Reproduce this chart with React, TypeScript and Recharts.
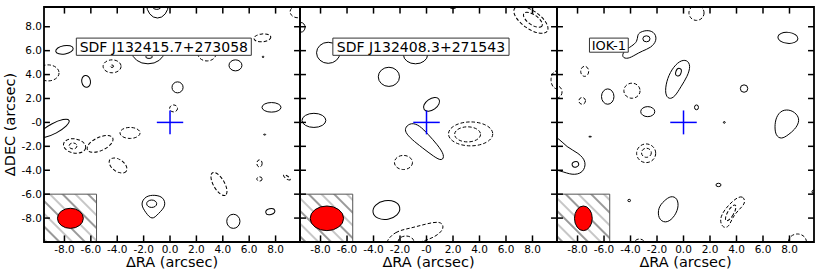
import React from 'react'
import { ComposedChart, XAxis, YAxis, Scatter, ReferenceArea, ReferenceLine } from 'recharts'

const TICKS = [-8, -6, -4, -2, 0, 2, 4, 6, 8]
const X_DOMAIN = [-9.55, 9.85]
const Y_DOMAIN = [-10, 9.65]
const X_TICK_LEN = 0.55 // inward tick length, in y units
const Y_TICK_LEN = 0.45 // inward tick length, in x units

// contours, in arcsec: [cx, cy, rx, ry, tilt deg]
const P1_POS = [
  [-0.95, 9.9, 0.83, 1.17, 0], [-1.0, 9.8, 0.38, 0.35, 0], [-8.0, 6.07, 0.67, 0.35, -10],
  [-1.67, 5.9, 1.21, 1.0, 0], [-1.59, 5.48, 0.25, 0.13, 0], [7.05, 5.48, 0.06, 0.06, 0],
  [4.96, 4.77, 0.49, 0.46, 0], [-6.36, 3.43, 0.33, 0.5, -10], [0.57, 2.93, 0.42, 0.46, 0],
  [7.69, 1.26, 0.72, 0.4, 0], [-8.79, -0.5, 1.29, 0.42, -28], [7.17, -1.02, 0.08, 0.04, 0],
  [-1.39, -6.8, 0.38, 0.31, 0], [4.8, -8.27, 0.5, 0.59, 0], [7.6, -7.46, 0.35, 0.25, -15],
]
const P1_NEG = [
  [9.7, 9.25, 0.6, 0.5, 0], [7.0, 7.07, 0.64, 0.33, -5], [2.8, 5.73, 0.68, 0.59, 0],
  [-4.39, 4.69, 0.68, 0.54, 0], [-4.4, 4.7, 0.12, 0.1, 0], [-9.24, 4.14, 0.83, 0.67, 0],
  [0.27, 1.17, 0.3, 0.29, 0], [-3.03, -0.88, 0.76, 0.46, 0], [-7.23, -1.97, 0.85, 0.59, 10],
  [-7.35, -1.97, 0.3, 0.25, 0], [-5.3, -1.8, 1.06, 0.55, -25], [-3.94, -3.6, 0.76, 0.5, 35],
  [3.71, -5.15, 0.98, 0.46, 60], [6.78, -3.43, 0.2, 0.3, 0], [6.78, -4.73, 0.2, 0.18, 0],
  [8.86, -4.6, 0.3, 0.12, 35],
]
const P1_POS_CURVES = [
  [[-2.25, -6.82], [-1.86, -6.15], [-1.14, -6.05], [-0.48, -6.25], [-0.3, -7.0], [-0.88, -7.62], [-1.36, -8.2], [-1.86, -7.52]],
]
const P1_NEG_CURVES: number[][][] = []
const P1_BEAM = [-7.55, -8.02, 0.98, 0.84]

const P2_POS = [
  [2.0, 9.83, 0.3, 0.33, 0], [-9.47, 7.95, 0.3, 0.4, 0], [-7.42, 5.82, 0.88, 0.88, 0],
  [-0.83, 5.65, 0.91, 0.75, 0], [-2.84, 3.81, 0.8, 0.8, 0], [0.38, 1.51, 0.68, 0.46, -35],
  [-8.5, 0.17, 0.9, 0.59, 0], [-3.03, -7.32, 1.02, 0.78, -10],
]
const P2_NEG = [
  [7.88, 8.58, 1.5, 0.75, 35], [8.03, 8.58, 0.83, 0.42, 35], [9.85, 3.56, 0.45, 0.75, 0],
  [3.33, -0.96, 1.67, 1.0, 0], [3.1, -1.0, 0.98, 0.63, 0], [-1.74, -3.35, 0.68, 0.59, 0],
  [-1.55, -10.0, 0.6, 0.5, 0],
]
const P2_POS_CURVES = [
  [[-1.6, -0.38], [-1.16, -0.02], [-0.55, -0.22], [0.14, -1.02], [0.82, -1.86], [1.38, -2.75], [1.18, -3.25], [0.58, -2.88], [-0.34, -2.1], [-1.12, -1.42], [-1.62, -0.82]],
]
const P2_NEG_CURVES = [
  [[-3.15, -10.05], [-2.38, -9.1], [-1.21, -8.85], [-0.08, -8.5], [1.1, -8.22], [1.38, -8.85], [0.7, -9.58], [-0.45, -10.0], [-1.59, -10.33], [-2.78, -10.5]],
]
const P2_BEAM = [-7.52, -8.02, 1.26, 1.03]

const P3_POS = [
  [-5.63, 9.92, 0.3, 0.33, 0], [7.88, 7.07, 0.76, 0.46, 5], [-2.8, 6.99, 0.27, 0.25, 0],
  [-0.38, 4.2, 0.2, 0.33, 20], [-5.72, 2.16, 0.47, 0.64, 0], [-2.7, 0.9, 0.53, 0.42, 0],
  [0.98, 1.26, 0.15, 0.2, 0], [4.57, 2.83, 0.28, 0.31, 0], [3.08, 0.0, 0.07, 0.07, 0],
  [-7.05, -1.19, 0.1, 0.03, 0], [-8.16, -3.51, 0.25, 0.23, -20], [2.64, -5.23, 0.19, 0.14, 0],
  [-4.1, -6.53, 0.1, 0.1, 0], [9.85, -5.8, 0.15, 0.15, 0],
]
const P3_NEG = [
  [0.98, 9.16, 0.57, 0.63, 0], [-7.46, 4.27, 0.3, 0.42, 0], [-9.55, 2.55, 0.38, 0.5, 0],
  [-3.89, 2.65, 0.61, 0.63, 0], [-7.65, 1.8, 0.25, 0.28, 0], [-2.82, -2.58, 0.72, 0.78, 0],
  [-2.8, -2.54, 0.37, 0.38, 0], [3.56, -7.57, 0.23, 0.75, 30], [8.6, -10.0, 0.68, 0.67, 0],
  [-3.33, -10.08, 0.38, 0.33, 0],
]
const P3_POS_CURVES = [
  [[-3.3, 7.56], [-2.65, 7.75], [-2.12, 7.47], [-2.02, 6.82], [-2.46, 6.24], [-3.11, 5.98], [-3.66, 5.64], [-4.2, 5.3], [-4.65, 5.42], [-4.55, 5.95], [-3.9, 6.38], [-3.48, 6.76], [-3.48, 7.28]],
  [[-0.3, 5.16], [0.26, 5.25], [0.55, 4.75], [0.3, 3.85], [-0.2, 2.98], [-0.66, 2.12], [-1.1, 1.92], [-1.4, 2.35], [-1.31, 3.4], [-0.9, 4.45]],
  [[6.97, 0.42], [7.4, 1.06], [8.14, 1.06], [8.66, 0.58], [8.74, 0.02], [8.4, -0.6], [7.9, -1.05], [7.38, -1.42], [6.96, -1.1], [6.88, -0.38]],
  [[-10.2, -1.0], [-9.35, -1.35], [-8.86, -2.05], [-7.92, -2.55], [-7.3, -3.3], [-7.58, -4.25], [-8.42, -4.42], [-9.22, -4.05], [-10.2, -3.9]],
  [[-1.46, -6.55], [-0.96, -6.12], [-0.45, -6.32], [-0.35, -7.15], [-0.78, -8.05], [-1.38, -8.45], [-1.92, -8.05], [-1.92, -7.12]],
]
const P3_NEG_CURVES = [
  [[3.94, -6.32], [4.5, -6.12], [4.72, -6.74], [4.12, -7.35], [3.66, -8.02], [3.43, -8.75], [2.98, -8.85], [2.7, -8.18], [3.06, -7.3]],
]
const P3_BEAM = [-7.56, -8.02, 0.67, 1.03]

const NAMES = ['SDF J132415.7+273058', 'SDF J132408.3+271543', 'IOK-1']
const X_ZERO_LABELS = ['0.0', '-0', '0.0']

const PANELS = [
  { left: 0, width: 303, margin: { top: 7, right: 3, bottom: 0, left: 0 }, yLabels: true,
    pos: P1_POS, neg: P1_NEG, posCurves: P1_POS_CURVES, negCurves: P1_NEG_CURVES, beam: P1_BEAM,
    box: [-7.1, 6.16, 5.61, 7.05], nameSize: 14 },
  { left: 297, width: 263, margin: { top: 7, right: 3, bottom: 0, left: 3 }, yLabels: false,
    pos: P2_POS, neg: P2_NEG, posCurves: P2_POS_CURVES, negCurves: P2_NEG_CURVES, beam: P2_BEAM,
    box: [-7.07, 6.23, 5.61, 7.05], nameSize: 14 },
  { left: 554, width: 263, margin: { top: 7, right: 3, bottom: 0, left: 3 }, yLabels: false,
    pos: P3_POS, neg: P3_NEG, posCurves: P3_POS_CURVES, negCurves: P3_NEG_CURVES, beam: P3_BEAM,
    box: [-7.1, -4.17, 5.87, 7.05], nameSize: 13 },
]

const DASH = '3.5 2'
const noDot = () => <g />

const ellipseShape = (rot: number, dashed: boolean, fill = 'none') => (p: any) => {
  const cx = p.x + p.width / 2
  const cy = p.y + p.height / 2
  return (
    <g clipPath={p.clipPath}>
      <ellipse cx={cx} cy={cy} rx={Math.abs(p.width) / 2} ry={Math.abs(p.height) / 2}
        transform={`rotate(${rot} ${cx} ${cy})`} fill={fill} stroke="#000" strokeWidth={1}
        strokeDasharray={dashed ? DASH : undefined} />
    </g>
  )
}

const fmt = (zero: string) => (v: number) => (v === 0 ? zero : v.toFixed(1))

function Panel({ idx }: { idx: number }) {
  const p = PANELS[idx]
  const hatch = `hatch-${idx}`
  const [bx, by, brx, bry] = p.beam
  const [x0, x1] = X_DOMAIN
  const [y0, y1] = Y_DOMAIN
  return (
    <div style={{ position: 'absolute', left: p.left, top: 0 }}>
      <ComposedChart width={p.width} height={273} margin={p.margin}>
        <defs>
          <pattern id={hatch} width={18} height={18} patternUnits="userSpaceOnUse" patternTransform="rotate(45)">
            <line x1={0} y1={3} x2={18} y2={3} stroke="#000" strokeWidth={0.8} />
            <line x1={0} y1={12} x2={18} y2={12} stroke="#b4b4b4" strokeWidth={1.5} />
          </pattern>
        </defs>
        <XAxis type="number" dataKey="x" domain={X_DOMAIN} allowDataOverflow ticks={TICKS} interval={0}
          tickFormatter={fmt(X_ZERO_LABELS[idx])} tickSize={0} tickMargin={3.5} height={31}
          axisLine={false} tickLine={false} tick={{ fontSize: 10.5, fill: '#000' }}
          label={{ value: 'ΔRA (arcsec)', position: 'insideBottom', offset: 6, fontSize: 14.5, fill: '#000' }} />
        {p.yLabels ? (
          <YAxis type="number" dataKey="y" domain={Y_DOMAIN} allowDataOverflow ticks={TICKS} interval={0}
            tickFormatter={fmt('-0')} tickSize={0} tickMargin={2} width={44}
            axisLine={false} tickLine={false} tick={{ fontSize: 10.5, fill: '#000' }}
            label={{ value: 'ΔDEC (arcsec)', angle: -90, position: 'insideLeft', offset: 10, fontSize: 14.5, fill: '#000', style: { textAnchor: 'middle' } }} />
        ) : (
          <YAxis type="number" dataKey="y" domain={Y_DOMAIN} allowDataOverflow hide />
        )}

        {p.pos.map(([cx, cy, rx, ry, rot], i) => (
          <ReferenceArea key={`pe${i}`} x1={cx - rx} x2={cx + rx} y1={cy - ry} y2={cy + ry}
            ifOverflow="hidden" shape={ellipseShape(rot, false)} />
        ))}
        {p.neg.map(([cx, cy, rx, ry, rot], i) => (
          <ReferenceArea key={`ne${i}`} x1={cx - rx} x2={cx + rx} y1={cy - ry} y2={cy + ry}
            ifOverflow="hidden" shape={ellipseShape(rot, true)} />
        ))}
        {p.posCurves.map((c, i) => (
          <Scatter key={`pc${i}`} data={c.map(([x, y]) => ({ x, y }))} shape={noDot}
            line={{ stroke: '#000', strokeWidth: 1 }} lineJointType="basisClosed" isAnimationActive={false} />
        ))}
        {p.negCurves.map((c, i) => (
          <Scatter key={`nc${i}`} data={c.map(([x, y]) => ({ x, y }))} shape={noDot}
            line={{ stroke: '#000', strokeWidth: 1, strokeDasharray: DASH }} lineJointType="basisClosed" isAnimationActive={false} />
        ))}

        <ReferenceArea x1={x0} x2={-5.57} y1={y0} y2={-6} ifOverflow="visible" fill={`url(#${hatch})`}
          fillOpacity={1} stroke="#555" strokeWidth={1} zIndex={700} />
        <ReferenceArea x1={bx - brx} x2={bx + brx} y1={by - bry} y2={by + bry} ifOverflow="visible"
          shape={ellipseShape(0, false, '#ff0000')} zIndex={710} />

        <ReferenceLine segment={[{ x: -1, y: 0 }, { x: 1, y: 0 }]} stroke="#0000ff" strokeWidth={1.5} zIndex={720} />
        <ReferenceLine segment={[{ x: 0, y: -1 }, { x: 0, y: 1 }]} stroke="#0000ff" strokeWidth={1.5} zIndex={720} />

        <ReferenceArea x1={p.box[0]} x2={p.box[1]} y1={p.box[2]} y2={p.box[3]} ifOverflow="visible"
          fill="#fff" fillOpacity={1} stroke="#333" strokeWidth={1} zIndex={730}
          label={{ value: NAMES[idx], position: 'center', fontSize: p.nameSize, fill: '#000' }} />

        {/* inward ticks on all four sides */}
        {TICKS.map((t) => (
          <ReferenceLine key={`tb${t}`} segment={[{ x: t, y: y0 }, { x: t, y: y0 + X_TICK_LEN }]} stroke="#000" strokeWidth={1.5} zIndex={740} />
        ))}
        {TICKS.map((t) => (
          <ReferenceLine key={`tt${t}`} segment={[{ x: t, y: y1 }, { x: t, y: y1 - X_TICK_LEN }]} stroke="#000" strokeWidth={1.5} zIndex={740} />
        ))}
        {TICKS.map((t) => (
          <ReferenceLine key={`tl${t}`} segment={[{ x: x0, y: t }, { x: x0 + Y_TICK_LEN, y: t }]} stroke="#000" strokeWidth={1.5} zIndex={740} />
        ))}
        {TICKS.map((t) => (
          <ReferenceLine key={`tr${t}`} segment={[{ x: x1, y: t }, { x: x1 - Y_TICK_LEN, y: t }]} stroke="#000" strokeWidth={1.5} zIndex={740} />
        ))}
        <ReferenceArea x1={x0} x2={x1} y1={y0} y2={y1} ifOverflow="visible" fill="none" stroke="#000"
          strokeWidth={1.8} zIndex={750} />
      </ComposedChart>
    </div>
  )
}

export default function App() {
  return (
    <div style={{ position: 'absolute', left: 0, top: 0, width: 830, height: 273, background: '#fff', fontFamily: '"DejaVu Sans", sans-serif' }}>
      <Panel idx={0} />
      <Panel idx={1} />
      <Panel idx={2} />
    </div>
  )
}
